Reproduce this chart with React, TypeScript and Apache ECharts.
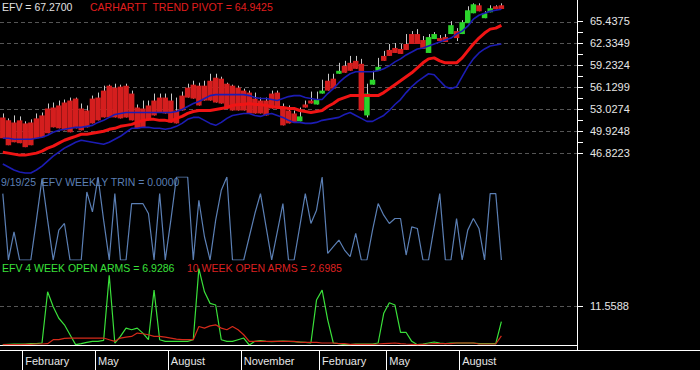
import { useEffect, useRef } from "react";
import * as echarts from "echarts";

// ---------- data ----------
const START_UTC = Date.UTC(2024, 0, 5); // first weekly bar (Friday)
const TOTAL_WEEKS = 103; // axis slots (data + empty future)
const MONTH_NAMES = ["January", "February", "March", "April", "May", "June", "July", "August", "September", "October", "November", "December"];
const LABEL_MONTHS = [1, 4, 7, 10];

// weekly EFV bars: [open, close, low, high]
const EFV_OHLC: number[][] = [
  [51.89, 48.93, 48.93, 52.45], [51.47, 47.95, 47.95, 51.75], [51.18, 48.37, 48.37, 52.17], [51.47, 48.23, 48.23, 52.03], [51.04, 47.67, 47.67, 51.33],
  [51.18, 47.95, 47.95, 51.61], [51.75, 48.93, 48.93, 52.45], [52.17, 49.07, 49.07, 52.59], [53.15, 49.64, 49.64, 53.86], [53.29, 50.48, 50.48, 54.0],
  [53.58, 50.34, 50.34, 54.28], [54.0, 50.06, 50.06, 54.42], [54.28, 49.78, 49.78, 54.7], [54.56, 50.34, 50.34, 54.7], [53.15, 50.06, 50.06, 53.86],
  [52.87, 50.48, 50.48, 53.58], [54.56, 51.04, 51.04, 54.98], [54.7, 51.47, 51.47, 55.41], [55.69, 51.89, 51.89, 56.39], [56.39, 51.89, 51.89, 56.53],
  [56.11, 51.89, 51.89, 56.67], [56.25, 51.75, 51.75, 56.53], [56.39, 51.89, 51.89, 56.67], [55.27, 51.47, 51.47, 55.69], [53.29, 50.34, 50.34, 53.72],
  [53.15, 50.48, 50.48, 54.28], [53.58, 51.47, 51.47, 54.28], [54.28, 52.17, 52.17, 55.27], [54.7, 52.59, 52.59, 55.27], [54.7, 52.45, 52.45, 55.27],
  [54.28, 51.18, 51.18, 55.27], [52.87, 51.04, 51.04, 54.7], [54.98, 52.87, 52.87, 55.55], [56.11, 54.7, 54.7, 56.67], [56.53, 54.56, 54.56, 57.09],
  [56.39, 53.58, 53.58, 56.81], [56.39, 54.28, 54.28, 57.09], [57.09, 54.28, 54.28, 58.08], [57.52, 54.0, 54.0, 58.08], [57.38, 53.86, 53.86, 57.66],
  [56.67, 53.15, 53.15, 56.81], [56.39, 52.87, 52.87, 56.53], [56.11, 52.87, 52.87, 56.39], [55.69, 52.87, 52.87, 55.97], [55.41, 52.45, 52.45, 55.69],
  [54.56, 52.45, 52.45, 55.41], [54.28, 52.45, 52.45, 54.7], [54.28, 52.17, 52.17, 54.7], [55.27, 53.15, 53.15, 55.69], [55.41, 53.29, 53.29, 55.69],
  [53.29, 50.76, 50.76, 53.86], [52.87, 51.04, 51.04, 53.58], [52.45, 51.18, 51.18, 52.87], [51.33, 52.03, 51.33, 53.29], [53.72, 53.29, 53.29, 54.28],
  [54.28, 53.86, 53.86, 55.55], [53.72, 54.42, 53.72, 55.55], [55.27, 55.69, 55.27, 57.23], [57.09, 55.69, 55.69, 58.08], [57.38, 55.97, 55.97, 58.08],
  [58.08, 58.5, 58.08, 59.63], [59.2, 58.22, 58.22, 59.91], [59.63, 58.5, 58.5, 60.61], [59.91, 58.78, 58.78, 60.61], [59.49, 52.87, 52.87, 60.19],
  [52.17, 55.27, 51.89, 56.67], [56.53, 57.23, 56.53, 58.5], [58.5, 59.06, 58.5, 60.33], [60.61, 59.91, 59.91, 61.32], [61.46, 60.61, 60.61, 62.3],
  [61.74, 61.03, 61.03, 62.44], [61.6, 60.89, 60.89, 62.3], [62.3, 61.46, 61.46, 63.71], [63.71, 62.3, 62.3, 64.13], [63.71, 62.3, 62.3, 64.41],
  [62.86, 61.6, 61.6, 63.43], [61.03, 63.28, 61.03, 63.71], [63.0, 63.71, 63.0, 63.99], [63.14, 62.72, 62.72, 63.57], [63.28, 62.58, 62.58, 63.71],
  [63.71, 64.97, 63.71, 65.54], [64.13, 63.14, 62.72, 64.55], [63.71, 65.4, 63.71, 65.68], [65.25, 67.08, 65.25, 67.65], [66.66, 67.93, 66.66, 68.07],
  [67.79, 66.94, 66.94, 68.07], [65.96, 66.66, 65.96, 66.94], [66.8, 67.37, 66.8, 67.79], [67.65, 67.22, 67.22, 67.79], [67.79, 67.27, 67.27, 68.07],
];

const TREND_PIVOT = [
  46.96, 46.82, 46.68, 46.54, 46.54, 46.68, 46.82, 47.1, 47.53, 47.81,
  48.23, 48.65, 48.93, 49.21, 49.5, 49.5, 49.64, 49.78, 49.92, 50.2,
  50.34, 50.62, 50.76, 50.9, 51.18, 51.47, 51.61, 51.61, 51.47, 51.47,
  51.33, 51.75, 52.03, 52.45, 52.73, 52.87, 52.87, 52.87, 53.01, 53.15,
  53.29, 53.58, 53.72, 53.72, 53.86, 53.72, 53.72, 53.58, 53.44, 53.29,
  53.29, 53.15, 53.15, 52.87, 52.73, 52.59, 52.73, 52.87, 53.44, 53.86,
  54.42, 54.7, 54.98, 54.98, 54.98, 54.98, 54.98, 54.98, 55.41, 55.97,
  56.53, 57.09, 57.66, 58.22, 58.92, 59.63, 60.19, 60.33, 59.91, 59.63,
  59.63, 59.63, 60.33, 61.32, 62.3, 63.14, 63.85, 64.41, 64.55, 64.9425,
];

const UPPER_BAND = [
  48.93, 48.93, 48.79, 48.79, 48.79, 48.79, 48.93, 49.07, 49.36, 49.78,
  50.06, 50.2, 50.34, 50.48, 50.48, 50.62, 50.76, 51.18, 51.47, 51.89,
  52.31, 52.45, 52.59, 52.59, 52.59, 52.59, 52.59, 52.59, 52.59, 52.59,
  52.59, 52.73, 53.01, 53.44, 53.86, 54.14, 54.56, 54.98, 55.12, 55.12,
  55.12, 55.12, 55.12, 55.12, 54.98, 54.7, 54.56, 54.56, 54.42, 54.28,
  54.56, 54.84, 54.98, 54.98, 54.7, 54.56, 54.42, 54.42, 55.27, 55.97,
  56.81, 57.52, 58.08, 58.36, 58.36, 58.36, 58.36, 58.5, 58.78, 59.2,
  59.77, 60.19, 60.75, 61.17, 61.6, 61.74, 62.02, 62.3, 62.58, 62.86,
  63.14, 63.71, 64.13, 64.83, 65.82, 66.38, 66.66, 66.94, 67.08, 67.22,
];

const LOWER_BAND = [
  45.27, 44.85, 44.43, 44.15, 44.01, 44.01, 44.43, 44.99, 45.7, 46.4,
  46.96, 47.53, 47.95, 48.37, 48.65, 48.51, 48.37, 48.23, 48.09, 48.37,
  48.79, 49.21, 49.78, 50.34, 50.34, 50.48, 50.48, 50.34, 50.34, 50.2,
  50.34, 50.62, 51.04, 51.61, 51.89, 51.89, 51.47, 51.04, 50.76, 51.18,
  51.75, 52.17, 52.31, 52.45, 52.45, 52.17, 52.03, 52.31, 52.45, 52.17,
  51.89, 51.47, 51.18, 51.18, 51.04, 51.04, 51.18, 51.47, 51.61, 51.75,
  51.89, 52.31, 52.59, 52.17, 51.75, 51.33, 51.33, 51.75, 52.17, 52.87,
  53.72, 54.42, 55.41, 56.25, 56.95, 57.52, 58.08, 57.94, 57.09, 56.25,
  55.97, 56.25, 57.66, 59.06, 60.19, 61.03, 61.6, 62.02, 62.16, 62.3,
];

const WEEKLY_TRIN = [
  2.0, 0, 0.85, 0, 0, 0, 1.2, 2.45, 1.2, 0,
  0.9, 1.1, 0, 0, 0, 2.05, 1.45, 2.5, 1.2, 0,
  2.0, 0, 0, 1.7, 1.7, 1.7, 1.4, 0, 2.0, 0,
  1.2, 2.5, 2.5, 2.5, 0, 1.8, 0.7, 0, 1.2, 2.1,
  2.5, 0, 0, 0, 0.7, 1.4, 2.0, 1.0, 0, 0.85,
  1.7, 0, 0, 1.0, 2.0, 1.1, 1.5, 2.5, 0.2, 0.4,
  0.6, 0.3, 0.1, 0.8, 0, 0, 0.9, 1.7, 1.35, 1.1,
  1.25, 1.25, 0.15, 1.0, 0.95, 0, 0, 1.0, 2.0, 0,
  0, 1.25, 0, 0.9, 1.25, 0.95, 0, 2.0, 2.0, 0,
];

const OPEN_ARMS_4W = [
  0.1, 0.2, 0.29, 0.29, 0.29, 0.39, 0.39, 0.59, 15.77, 11.36,
  7.93, 5.98, 3.04, 0.1, 0.39, 0.78, 1.08, 1.08, 1.37, 20.67,
  0.59, 2.55, 5.0, 4.51, 5.0, 3.53, 1.57, 16.26, 1.57, 1.08,
  1.08, 1.08, 1.08, 1.08, 1.57, 22.63, 15.77, 12.34, 11.85, 1.57,
  1.08, 1.08, 1.57, 2.06, 0.0, 1.08, 1.27, 1.08, 0.98, 1.08,
  1.18, 1.08, 0.98, 0.88, 0.78, 0.59, 13.32, 16.26, 7.45, 0.59,
  0.39, 0.1, 0.1, 0.29, 0.29, 0.29, 0.29, 0.59, 9.4, 12.54,
  11.85, 3.72, 3.72, 1.08, 0.1, 0.29, 0.59, 0.88, 0.59, 0.39,
  0.59, 0.59, 0.59, 0.59, 0.59, 0.39, 0.39, 0.39, 0.39, 6.9286,
];

const OPEN_ARMS_10W = [
  0.1, 0.1, 0.1, 0.1, 0.2, 0.2, 0.29, 0.29, 0.39, 1.57,
  1.57, 1.96, 2.06, 2.06, 2.06, 2.06, 2.06, 2.06, 2.06, 1.57,
  1.08, 2.06, 2.35, 2.55, 3.53, 3.33, 3.04, 2.55, 2.55, 2.35,
  2.06, 1.76, 1.57, 1.57, 1.57, 5.49, 5.0, 5.68, 5.98, 5.0,
  4.51, 5.49, 4.51, 3.04, 1.08, 1.08, 1.08, 1.08, 1.08, 1.08,
  1.08, 1.08, 1.08, 0.88, 0.78, 0.78, 0.78, 0.59, 0.59, 0.59,
  0.39, 0.39, 0.2, 0.2, 0.2, 0.2, 0.2, 0.29, 0.39, 0.49,
  0.59, 0.39, 0.29, 0.2, 0.1, 0.2, 0.29, 0.39, 0.39, 0.39,
  0.39, 0.59, 0.59, 0.59, 0.59, 0.29, 0.29, 0.29, 0.29, 2.6985,
];

const PRICE_TICK_LABELS = ["46.8223", "49.9248", "53.0274", "56.1299", "59.2324", "62.3349", "65.4375"];
const PRICE_TICK_STEP = 3.10253;
const ARMS_TICK_LABELS = ["11.5588"];
const TRIN_MAX = 2.5;

// ---------- helpers ----------
const FONT = '"Liberation Sans", Arial, sans-serif';
const BASE = parseFloat(PRICE_TICK_LABELS[0]);
const STEP = PRICE_TICK_STEP;
const ARMS_TICK = parseFloat(ARMS_TICK_LABELS[0]);
const N = EFV_OHLC.length;
const PRICE_SPAN = (PRICE_TICK_LABELS.length - 1) * STEP;

const WEEK_MS = 7 * 86400000;
const dateAt = (i: number) => new Date(START_UTC + i * WEEK_MS);
const CATEGORIES = Array.from({ length: TOTAL_WEEKS }, (_, i) => dateAt(i).toISOString().slice(0, 10));
const isMonthStart = (i: number) => {
  if (i >= N) return false;
  const d = dateAt(i);
  return d.getUTCDate() <= 7 && LABEL_MONTHS.includes(d.getUTCMonth());
};
const lastDate = dateAt(N - 1);
const lastDateText = `${lastDate.getUTCMonth() + 1}/${lastDate.getUTCDate()}/${String(lastDate.getUTCFullYear()).slice(2)}`;

const shift = (arr: number[]) => arr.map((v) => +(v - BASE).toFixed(4));

const RED = "#d41e1e";
const GREEN = "#2bd42b";
const WICK = "#c8c8c8";
const PIVOT_RED = "#f01414";
const BAND_BLUE = "#1c1cb4";
const TRIN_BLUE = "#5b7fb4";
const ARMS_GREEN = "#3ae03a";
const ARMS_RED = "#d42a1a";
const GRID_LINE = "#555555";
const LABEL = "#e6e6e6";

export default function App() {
  const ref = useRef<HTMLDivElement>(null);

  useEffect(() => {
    if (!ref.current) return;
    const chart = echarts.init(ref.current, undefined, { renderer: "svg" });

    const candleData = EFV_OHLC.map((d, i) => [i, d[0] - BASE, d[1] - BASE, d[2] - BASE, d[3] - BASE]);
    const dashed = { color: GRID_LINE, type: [4, 3], width: 1 };
    const tickStyle = { color: "#ffffff", width: 1 };
    const labelStyle = { color: LABEL, fontSize: 11, fontFamily: FONT, margin: 13 };

    const option: any = {
      animation: false,
      backgroundColor: "#000000",
      textStyle: { fontFamily: FONT },
      grid: [
        { left: 0, right: 123, top: -1, height: 176 }, // price panel
        { left: 0, right: 123, top: 177, height: 83 }, // TRIN panel
        { left: 0, right: 123, top: 267, height: 78 }, // open arms panel
        { left: 0, right: 123, top: 21, height: 132 }, // price tick ruler (46.8223 .. 65.4375)
        { left: 0, right: 123, top: 300, height: 12 }, // open arms tick ruler
      ],
      xAxis: [
        { type: "category", gridIndex: 0, data: CATEGORIES, show: false },
        { type: "category", gridIndex: 1, data: CATEGORIES, show: false },
        {
          type: "category", gridIndex: 2, data: CATEGORIES, position: "bottom",
          axisLine: { show: true, lineStyle: { color: "#ffffff", width: 1 } },
          axisTick: { show: false }, axisLabel: { show: false }, splitLine: { show: false },
        },
        {
          type: "category", gridIndex: 2, data: CATEGORIES, position: "bottom", offset: 5,
          axisLine: { show: false },
          axisTick: { show: true, interval: (i: number) => isMonthStart(i), length: 20, lineStyle: tickStyle },
          axisLabel: {
            show: true, interval: (i: number) => isMonthStart(i),
            formatter: (v: string) => MONTH_NAMES[new Date(v + "T00:00:00Z").getUTCMonth()],
            color: LABEL, fontSize: 11, fontFamily: FONT, align: "left", margin: 5,
          },
          splitLine: { show: false },
        },
        { type: "category", gridIndex: 3, data: CATEGORIES, show: false },
        { type: "category", gridIndex: 4, data: CATEGORIES, show: false },
      ],
      yAxis: [
        {
          type: "value", gridIndex: 0, position: "right", min: -STEP, max: 7 * STEP, interval: STEP,
          axisLine: { show: false, onZero: false }, axisTick: { show: false }, axisLabel: { show: false },
          splitLine: { show: true, showMinLine: false, showMaxLine: false, lineStyle: dashed },
        },
        { type: "value", gridIndex: 1, min: 0, max: TRIN_MAX, show: false },
        {
          type: "value", gridIndex: 2, position: "right", min: 0, max: 2 * ARMS_TICK, interval: ARMS_TICK,
          axisLine: { show: false, onZero: false }, axisTick: { show: false }, axisLabel: { show: false },
          splitLine: { show: true, showMinLine: false, showMaxLine: false, lineStyle: dashed },
        },
        {
          type: "value", gridIndex: 3, position: "right", min: 0, max: PRICE_SPAN, interval: STEP,
          axisLine: { show: false, onZero: false },
          axisTick: { show: true, length: 6, lineStyle: tickStyle },
          minorTick: { show: true, splitNumber: 2, length: 6, lineStyle: tickStyle },
          axisLabel: { ...labelStyle, formatter: (u: number) => PRICE_TICK_LABELS[Math.round(u / STEP)] ?? "" },
          splitLine: { show: false }, minorSplitLine: { show: false },
        },
        {
          type: "category", gridIndex: 4, position: "right", data: ARMS_TICK_LABELS,
          axisLine: { show: false, onZero: false },
          axisTick: { show: true, alignWithLabel: true, length: 6, lineStyle: tickStyle },
          axisLabel: { ...labelStyle },
          splitLine: { show: false },
        },
      ],
      series: [
        {
          type: "custom", name: "EFV", xAxisIndex: 0, yAxisIndex: 0, z: 2,
          data: candleData,
          encode: { x: 0, y: [1, 2, 3, 4] },
          renderItem: (_params: any, api: any) => {
            const i = api.value(0);
            const o = api.value(1), c = api.value(2), l = api.value(3), h = api.value(4);
            const pO = api.coord([i, o]);
            const pC = api.coord([i, c]);
            const pL = api.coord([i, l]);
            const pH = api.coord([i, h]);
            const bw = api.size([1, 0])[0];
            const w = bw * 0.98;
            const x = Math.round(pO[0]) + 0.5;
            const top = Math.min(pO[1], pC[1]);
            const bot = Math.max(pO[1], pC[1]);
            const up = c >= o;
            return {
              type: "group",
              children: [
                { type: "line", shape: { x1: x, y1: pH[1], x2: x, y2: pL[1] }, style: { stroke: WICK, lineWidth: 1 } },
                { type: "rect", shape: { x: pO[0] - w / 2, y: top, width: w, height: Math.max(bot - top, 1.5) }, style: { fill: up ? GREEN : RED } },
              ],
            };
          },
        },
        {
          type: "line", name: "Lower", xAxisIndex: 0, yAxisIndex: 0, z: 3, data: shift(LOWER_BAND),
          showSymbol: false, lineStyle: { color: BAND_BLUE, width: 1.6 },
        },
        {
          type: "line", name: "Pivot", xAxisIndex: 0, yAxisIndex: 0, z: 3, data: shift(TREND_PIVOT),
          showSymbol: false, lineStyle: { color: PIVOT_RED, width: 3 },
        },
        {
          type: "line", name: "Upper", xAxisIndex: 0, yAxisIndex: 0, z: 3, data: shift(UPPER_BAND),
          showSymbol: false, lineStyle: { color: BAND_BLUE, width: 1.6 },
        },
        {
          type: "line", name: "TRIN", xAxisIndex: 1, yAxisIndex: 1, data: WEEKLY_TRIN,
          showSymbol: false, lineStyle: { color: TRIN_BLUE, width: 1.2 },
        },
        {
          type: "line", name: "4W", xAxisIndex: 2, yAxisIndex: 2, data: OPEN_ARMS_4W,
          showSymbol: false, lineStyle: { color: ARMS_GREEN, width: 1.2 },
        },
        {
          type: "line", name: "10W", xAxisIndex: 2, yAxisIndex: 2, data: OPEN_ARMS_10W,
          showSymbol: false, lineStyle: { color: ARMS_RED, width: 1.2 },
        },
      ],
      graphic: [
        { type: "line", z: 50, shape: { x1: 577.5, y1: 0, x2: 577.5, y2: 350 }, style: { stroke: "#ffffff", lineWidth: 1 } },
        { type: "line", z: 50, shape: { x1: 0, y1: 350.5, x2: 700, y2: 350.5 }, style: { stroke: "#ffffff", lineWidth: 1 } },
        { type: "rect", z: 49, shape: { x: 575.5, y: 351, width: 5, height: 19 }, style: { fill: "#000000" } },
        {
          type: "text", z: 60, x: 2, y: 7,
          style: { text: `EFV = ${EFV_OHLC[N - 1][1].toFixed(4)}`, fill: "#e2e2e2", font: `10.5px ${FONT}`, verticalAlign: "middle" },
        },
        {
          type: "text", z: 60, x: 90, y: 7,
          style: { text: `CARHARTT  TREND PIVOT = ${TREND_PIVOT[N - 1].toFixed(4)}`, fill: "#e01e1e", font: `10.5px ${FONT}`, verticalAlign: "middle" },
        },
        {
          type: "text", z: 60, x: 1, y: 182,
          style: { text: `${lastDateText}  EFV WEEKLY TRIN = ${WEEKLY_TRIN[N - 1].toFixed(4)}`, fill: TRIN_BLUE, font: `10.5px ${FONT}`, verticalAlign: "middle" },
        },
        {
          type: "text", z: 60, x: 2, y: 268,
          style: { text: `EFV 4 WEEK OPEN ARMS = ${OPEN_ARMS_4W[N - 1].toFixed(4)}`, fill: ARMS_GREEN, font: `10.5px ${FONT}`, verticalAlign: "middle" },
        },
        {
          type: "text", z: 60, x: 187, y: 268,
          style: { text: `10 WEEK OPEN ARMS = ${OPEN_ARMS_10W[N - 1].toFixed(4)}`, fill: "#dd2020", font: `10.5px ${FONT}`, verticalAlign: "middle" },
        },
      ],
    };

    chart.setOption(option);
    return () => chart.dispose();
  }, []);

  return (
    <div
      ref={ref}
      style={{ position: "fixed", left: 0, top: 0, width: 700, height: 370, background: "#000" }}
    />
  );
}
